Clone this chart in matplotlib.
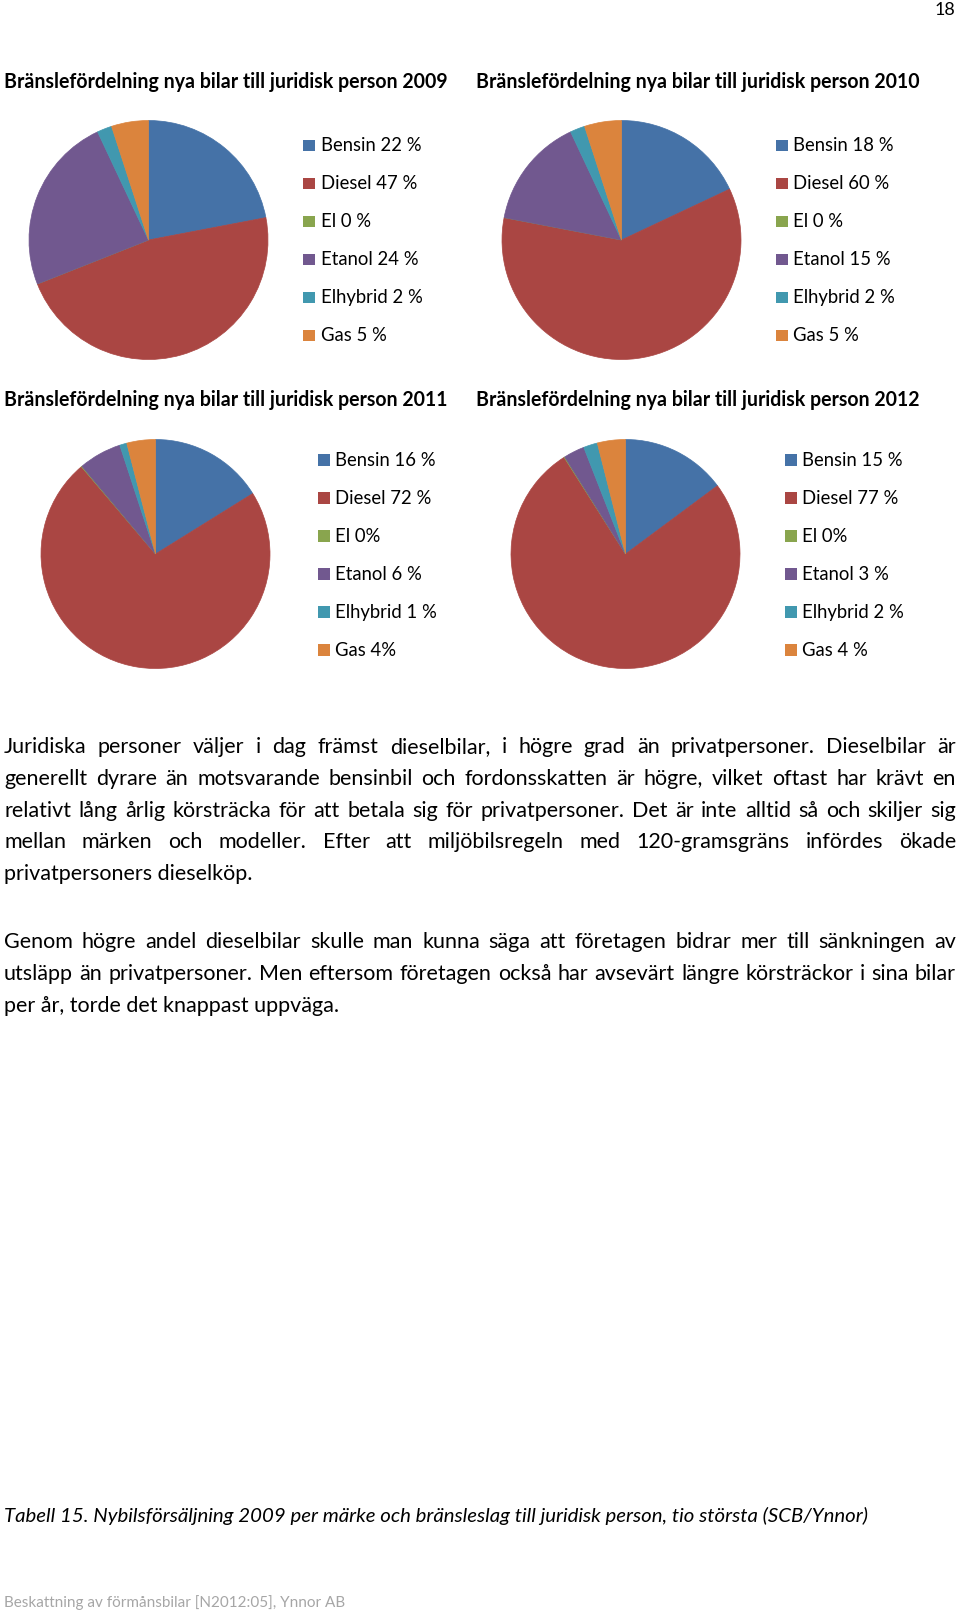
import matplotlib
matplotlib.use("Agg")
import matplotlib.pyplot as plt
from matplotlib.patches import Rectangle

# ---------------- data ----------------
categories = ['Bensin', 'Diesel', 'El', 'Etanol', 'Elhybrid', 'Gas']
years = [2009, 2010, 2011, 2012]
share_2009 = [22, 47, 0, 24, 2, 5]
share_2010 = [18, 60, 0, 15, 2, 5]
share_2011 = [16, 72, 0.1, 6, 1, 4]
share_2012 = [15, 77, 0.1, 3, 2, 4]
labels_2009 = ['Bensin 22 %', 'Diesel 47 %', 'El 0 %', 'Etanol 24 %', 'Elhybrid 2 %', 'Gas 5 %']
labels_2010 = ['Bensin 18 %', 'Diesel 60 %', 'El 0 %', 'Etanol 15 %', 'Elhybrid 2 %', 'Gas 5 %']
labels_2011 = ['Bensin 16 %', 'Diesel 72 %', 'El 0%', 'Etanol 6 %', 'Elhybrid 1 %', 'Gas 4%']
labels_2012 = ['Bensin 15 %', 'Diesel 77 %', 'El 0%', 'Etanol 3 %', 'Elhybrid 2 %', 'Gas 4 %']
title_prefix = 'Bränslefördelning nya bilar till juridisk person '

para1 = [
    "Juridiska personer väljer i dag främst dieselbilar, i högre grad än privatpersoner. Dieselbilar är",
    "generellt dyrare än motsvarande bensinbil och fordonsskatten är högre, vilket oftast har krävt en",
    "relativt lång årlig körsträcka för att betala sig för privatpersoner. Det är inte alltid så och skiljer sig",
    "mellan märken och modeller. Efter att miljöbilsregeln med 120-gramsgräns infördes ökade",
    "privatpersoners dieselköp.",
]
para2 = [
    "Genom högre andel dieselbilar skulle man kunna säga att företagen bidrar mer till sänkningen av",
    "utsläpp än privatpersoner. Men eftersom företagen också har avsevärt längre körsträckor i sina bilar",
    "per år, torde det knappast uppväga.",
]
caption = "Tabell 15. Nybilsförsäljning 2009 per märke och bränsleslag till juridisk person, tio största (SCB/Ynnor)"
footer = "Beskattning av förmånsbilar [N2012:05], Ynnor AB"
page_no = "18"

# ---------------- style ----------------
colors = ['#4572A7', '#AA4643', '#89A54E', '#71588F', '#4198AF', '#DB843D']
FONT = ['Lato', 'DejaVu Sans']

W, H = 960, 1613
fig = plt.figure(figsize=(W / 100, H / 100), dpi=100)
fig.patch.set_facecolor('white')
renderer = fig.canvas.get_renderer()


def px(x, y):
    return x / W, 1 - y / H


def text_width(s, size, **kw):
    t = fig.text(0, 0, s, fontsize=size, family=FONT, **kw)
    w = t.get_window_extent(renderer).width
    t.remove()
    return w


def fit(s, target, **kw):
    return 20 * target / text_width(s, 20, **kw)


def put(x, y, s, size, **kw):
    fig.text(*px(x, y), s, fontsize=size, family=FONT, va='baseline', **kw)


def justified(line, y, size, x0=4, x1=956):
    words = line.split(' ')
    widths = [text_width(w, size) for w in words]
    gap = (x1 - x0 - sum(widths)) / (len(words) - 1)
    x = x0
    for w, wd in zip(words, widths):
        put(x, y, w, size, ha='left')
        x += wd + gap


# ---------------- pies ----------------
title_size = fit(title_prefix + '2009', 443, fontweight='bold')
legend_size = fit('Bensin 22 %', 101)

panels = [
    # share, labels, year, title_x, title_base, cx, cy, r, marker_x, text_x, first_base
    (share_2009, labels_2009, years[0], 4, 88, 148.5, 240, 119.5, 303, 321, 151),
    (share_2010, labels_2010, years[1], 476, 88, 621.5, 240, 119.5, 776, 793, 151),
    (share_2011, labels_2011, years[2], 4, 406.5, 155.5, 554, 114.5, 318, 335, 465.7),
    (share_2012, labels_2012, years[3], 476, 406.5, 625.5, 554, 114.5, 785, 802, 465.7),
]
row_step = 38.0
sq = 11.5

for share, labels, year, tx, tb, cx, cy, r, mx, lx, fb in panels:
    put(tx, tb, title_prefix + str(year), title_size, fontweight='bold', ha='left', color='#000000')
    ax = fig.add_axes([(cx - r) / W, 1 - (cy + r) / H, 2 * r / W, 2 * r / H])
    wedges, _ = ax.pie(share, colors=colors, startangle=90, counterclock=False, radius=1)
    for wdg in wedges:
        wdg.set_edgecolor(wdg.get_facecolor())
        wdg.set_linewidth(0.5)
    ax.set_xlim(-1.0, 1.0)
    ax.set_ylim(-1.0, 1.0)
    ax.set_aspect('equal')
    ax.axis('off')
    for i, (lab, col) in enumerate(zip(labels, colors)):
        base = fb + i * row_step
        x0, y0 = px(mx, base)
        fig.add_artist(Rectangle((x0, y0), sq / W, sq / H, transform=fig.transFigure,
                                 facecolor=col, edgecolor='none'))
        put(lx, base, lab, legend_size, ha='left', color='#000000')

# ---------------- body text ----------------
s1 = fit(para1[-1], 248)
s2 = fit(para2[-1], 336.5)
body_size = (s1 + s2) / 2
longest = text_width(para1[2], body_size)
if longest > 950:
    body_size *= 950 / longest

base1 = [753, 785, 817, 848.5, 880]
for i, line in enumerate(para1):
    if i < len(para1) - 1:
        justified(line, base1[i], body_size)
    else:
        put(4, base1[i], line, body_size, ha='left')

base2 = [948, 980, 1011.5]
for i, line in enumerate(para2):
    if i < len(para2) - 1:
        justified(line, base2[i], body_size)
    else:
        put(4, base2[i], line, body_size, ha='left')

# ---------------- caption / footer / page ----------------
cap_size = fit(caption, 862, style='italic')
put(4, 1522, caption, cap_size, ha='left', style='italic')

foot_size = fit(footer, 342)
put(4, 1607, footer, foot_size, ha='left', color='#A6A6A6')

put(955, 15, page_no, 13, ha='right')

fig.savefig('out.png', dpi=100, facecolor='white')
